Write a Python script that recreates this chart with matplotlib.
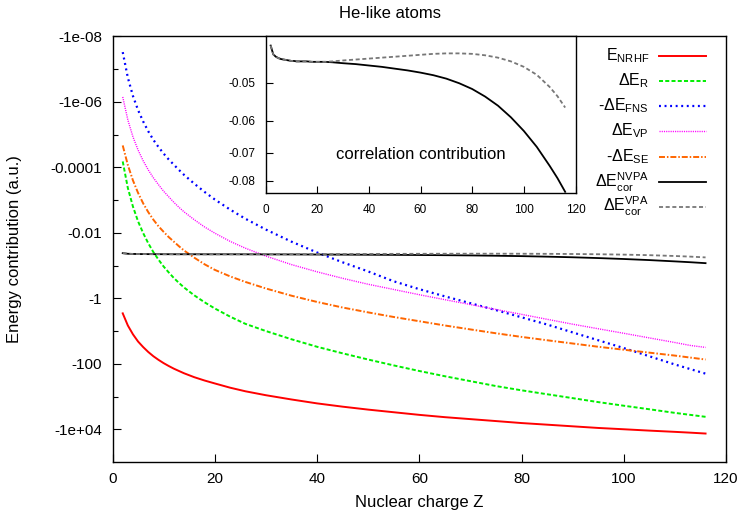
import matplotlib
matplotlib.use('Agg')
import matplotlib.pyplot as plt
from matplotlib.ticker import FixedLocator, NullLocator, NullFormatter
from matplotlib.lines import Line2D

plt.rcParams['font.family'] = ['Liberation Sans', 'DejaVu Sans']
plt.rcParams['mathtext.default'] = 'regular'
plt.rcParams['lines.scale_dashes'] = False

# ---------------- data (magnitudes of the energy contributions, a.u.) ----------------
Z = [2, 3, 4, 5, 6, 7, 8, 9, 10, 11, 12, 13, 14, 16, 18, 20, 23, 26, 30, 35, 40, 45, 50,
     55, 60, 65, 70, 75, 80, 85, 90, 95, 100, 105, 110, 113, 116]

E_NRHF = [2.88, 6.76, 12.6, 20.9, 30.9, 43.7, 58.9, 75.9, 95.5, 117, 141, 166, 195, 257,
          324, 398, 537, 692, 912, 1230, 1620, 2040, 2510, 3020, 3630, 4270, 4900, 5620,
          6460, 7240, 8130, 9120, 10000, 11000, 12000, 12700, 13500]
dE_R = [6.6e-5, 4.27e-4, 1.58e-3, 4.47e-3, 1.02e-2, 2.09e-2, 3.89e-2, 6.6e-2, 0.107,
        0.162, 0.240, 0.339, 0.468, 0.813, 1.32, 2.04, 3.63, 6.03, 10.0, 17.8, 30.2, 47.9,
        74.1, 112, 166, 240, 339, 479, 646, 851, 1120, 1480, 1910, 2450, 3160, 3630, 4170]
dE_FNS = [3.02e-8, 1.82e-7, 6.61e-7, 1.78e-6, 3.98e-6, 7.94e-6, 1.45e-5, 2.40e-5, 3.80e-5,
          5.75e-5, 8.32e-5, 1.20e-4, 1.70e-4, 3.16e-4, 5.62e-4, 9.55e-4, 1.95e-3, 3.72e-3,
          7.94e-3, 1.86e-2, 3.98e-2, 7.94e-2, 0.151, 0.302, 0.525, 0.871, 1.41, 2.29,
          3.80, 6.31, 11.0, 19.1, 33.1, 58.9, 105, 145, 200]
dE_VP = [7.08e-7, 3.55e-6, 1.17e-5, 2.95e-5, 6.31e-5, 1.20e-4, 2.09e-4, 3.39e-4, 5.37e-4,
         7.94e-4, 1.17e-3, 1.66e-3, 2.29e-3, 3.98e-3, 6.61e-3, 1.02e-2, 1.82e-2, 2.95e-2,
         5.13e-2, 9.33e-2, 0.155, 0.245, 0.372, 0.537, 0.776, 1.10, 1.55, 2.19, 3.09, 4.37,
         6.17, 8.51, 11.7, 16.2, 22.4, 27.5, 31.6]
dE_SE = [2.14e-5, 8.51e-5, 2.51e-4, 6.03e-4, 1.26e-3, 2.34e-3, 3.98e-3, 6.31e-3, 9.33e-3,
         1.35e-2, 1.86e-2, 2.57e-2, 3.47e-2, 5.75e-2, 9.12e-2, 0.135, 0.214, 0.316, 0.501,
         0.832, 1.29, 1.91, 2.69, 3.72, 5.01, 6.76, 8.91, 11.7, 15.1, 19.1, 24.0, 30.2,
         37.2, 45.7, 56.2, 64.6, 74.1]
dE_cor_NVPA = [0.0418, 0.0436, 0.0441, 0.0444, 0.0446, 0.0447, 0.0448, 0.0449, 0.0450,
               0.0450, 0.0451, 0.0451, 0.0451, 0.0451, 0.0452, 0.0452, 0.0452, 0.0453,
               0.0455, 0.0457, 0.0460, 0.0463, 0.0467, 0.0471, 0.0476, 0.0482, 0.0490,
               0.0501, 0.0515, 0.0534, 0.0558, 0.0590, 0.0630, 0.0680, 0.0745, 0.0790,
               0.0844]
dE_cor_VPA = [0.0418, 0.0436, 0.0441, 0.0444, 0.0446, 0.0447, 0.0448, 0.0449, 0.0450,
              0.0450, 0.0451, 0.0451, 0.0451, 0.0451, 0.0452, 0.0452, 0.0452, 0.0451,
              0.0449, 0.0447, 0.0445, 0.0443, 0.0441, 0.0439, 0.0437, 0.0435, 0.0434,
              0.0434, 0.0435, 0.0438, 0.0443, 0.0451, 0.0463, 0.0481, 0.0510, 0.0533,
              0.0563]

labels = ['E$_{NRHF}$', 'ΔE$_{R}$', '-ΔE$_{FNS}$', 'ΔE$_{VP}$', '-ΔE$_{SE}$',
          'ΔE$_{cor}^{NVPA}$', 'ΔE$_{cor}^{VPA}$']

main_yticks = [1e-8, 1e-6, 1e-4, 1e-2, 1, 1e2, 1e4]
main_yticklabels = ['-1e-08', '-1e-06', '-0.0001', '-0.01', '-1', '-100', '-1e+04']
main_yminor = [1e-7, 1e-5, 1e-3, 1e-1, 1e1, 1e3]
xticks = [0, 20, 40, 60, 80, 100, 120]
inset_yticks = [0.05, 0.06, 0.07, 0.08]
inset_yticklabels = ['-0.05', '-0.06', '-0.07', '-0.08']

styles = [
    dict(color='#ff0000', lw=1.4, ls='-'),
    dict(color='#00ee00', lw=1.4, ls=(0, (2.9, 1.6))),
    dict(color='#0000ff', lw=1.6, ls=(0, (1.4, 2.6))),
    dict(color='#ff00ff', lw=1.0, ls=(0, (0.8, 0.8))),
    dict(color='#ff6600', lw=1.4, ls=(0, (4.3, 1.4, 1.1, 1.4))),
    dict(color='#000000', lw=1.3, ls='-'),
    dict(color='#777777', lw=1.3, ls=(0, (2.9, 1.9))),
]
series = [E_NRHF, dE_R, dE_FNS, dE_VP, dE_SE, dE_cor_NVPA, dE_cor_VPA]

# ---------------- figure ----------------
W, H = 744, 518
fig = plt.figure(figsize=(W / 100, H / 100), dpi=100)


def fx(px):
    return px / W


def fy(py):
    return 1 - py / H


ax = fig.add_axes([fx(112.5), fy(462), fx(726) - fx(112.5), fy(36.4) - fy(462)])
for s, st in zip(series, styles):
    ax.plot(Z, s, **st)
ax.set_yscale('log')
ax.set_xlim(0, 120)
ax.set_ylim(1e5, 1e-8)
ax.set_xticks(xticks)
ax.set_yticks(main_yticks)
ax.set_yticklabels(main_yticklabels)
ax.yaxis.set_minor_locator(FixedLocator(main_yminor))
ax.yaxis.set_minor_formatter(NullFormatter())
ax.xaxis.set_minor_locator(NullLocator())
ax.tick_params(which='both', direction='in', top=False, right=False, width=0.8)
ax.tick_params(which='major', length=6, labelsize=11)
ax.tick_params(which='minor', length=3.5)
ax.tick_params(axis='x', pad=7)
ax.tick_params(axis='y', pad=7.5)
for sp in ax.spines.values():
    sp.set_linewidth(1.0)

fig.text(fx(390), fy(13), 'He-like atoms', ha='center', va='center', fontsize=12)
fig.text(fx(419), fy(503), 'Nuclear charge Z', ha='center', va='center', fontsize=12)
fig.text(fx(15), fy(249), 'Energy contribution (a.u.)', rotation=90,
         ha='center', va='center', fontsize=12)

# legend (gnuplot style: right-aligned text, sample to the right, no box)
leg_y = [55.7, 81, 106, 131, 156.7, 182.3, 206.7]
for lab, st, yy in zip(labels, styles, leg_y):
    fig.text(fx(649), fy(yy), lab, ha='right', va='center', fontsize=11.5)
    fig.add_artist(Line2D([fx(659), fx(706)], [fy(yy), fy(yy)],
                          transform=fig.transFigure, **st))

# ---------------- inset ----------------
axi = fig.add_axes([fx(265.5), fy(193.3), fx(575.5) - fx(265.5), fy(36.4) - fy(193.3)])
axi.set_facecolor('white')
axi.plot(Z, dE_cor_NVPA, **styles[5])
axi.plot(Z, dE_cor_VPA, **styles[6])
axi.set_yscale('log')
axi.set_xlim(0, 120)
axi.set_ylim(0.085, 0.04)
axi.set_xticks(xticks)
axi.set_yticks(inset_yticks)
axi.set_yticklabels(inset_yticklabels)
axi.yaxis.set_minor_locator(NullLocator())
axi.yaxis.set_minor_formatter(NullFormatter())
axi.tick_params(which='both', direction='in', top=False, right=False, width=0.8,
                length=5, labelsize=8.5)
axi.tick_params(axis='x', pad=8)
axi.tick_params(axis='y', pad=7)
for sp in axi.spines.values():
    sp.set_linewidth(1.0)
axi.text(0.5, 0.245, 'correlation contribution', transform=axi.transAxes,
         ha='center', va='center', fontsize=12)

fig.savefig('out.png', dpi=100)
